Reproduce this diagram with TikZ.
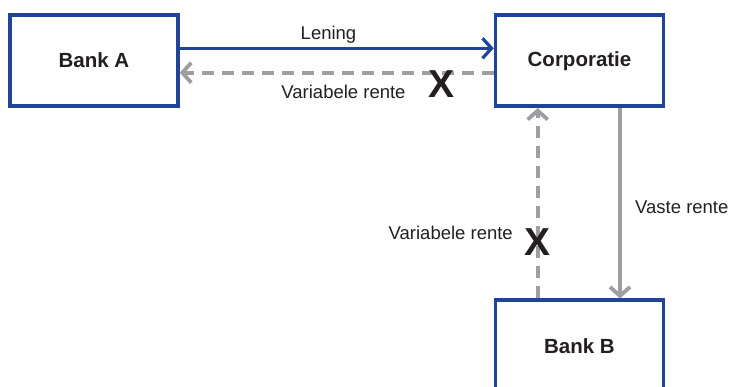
\documentclass[tikz,border=0pt]{standalone}
\usepackage{fontspec}
\setmainfont{Liberation Sans}
\usetikzlibrary{arrows.meta}
\definecolor{boxblue}{RGB}{31,68,154}
\definecolor{arrgray}{RGB}{158,158,162}
\definecolor{txt}{RGB}{35,31,32}
\begin{document}
\begin{tikzpicture}[x=1pt,y=-1pt,
  bank/.style={draw=boxblue, line width=3.5pt, minimum width=168pt, minimum height=91pt, inner sep=0pt,
    font=\fontsize{20.5}{24}\selectfont\bfseries, text=txt},
  lbl/.style={font=\fontsize{18.5}{22}\selectfont, text=txt, inner sep=0pt},
  cross/.style={font=\fontsize{39}{44}\selectfont\bfseries, text=txt, inner sep=0pt},
  bluearr/.style={draw=boxblue, line width=3.3pt, -{Straight Barb[length=9pt,width=20pt,line width=3.3pt]}},
  grayarr/.style={draw=arrgray, line width=4pt, -{Straight Barb[length=9pt,width=20pt,line width=3.8pt]}},
  grdashed/.style={dash pattern=on 12pt off 8pt}
]
\clip (0,0) rectangle (734,387);
\node[bank] (A) at (94,60.5) {Bank A};
\node[bank] (C) at (579.5,60.75) {Corporatie};
\node[bank] (B) at (579.5,345.75) {Bank B};

\draw[bluearr] ([yshift=12.2pt]A.east) -- ([yshift=12.2pt]A.east -| C.west);
\draw[grayarr,grdashed] ([yshift=-12.2pt]A.east -| C.west) -- ([yshift=-12.2pt]A.east);
\draw[grayarr,grdashed] ([xshift=-41.8pt]B.north) -- ([xshift=-41.8pt]B.north |- C.south);
\draw[grayarr] ([xshift=40.5pt]C.south) -- ([xshift=40.5pt]C.south |- B.north);

\node[lbl, anchor=base] (len) at (328.5,39.3) {Lening};
\node[lbl, anchor=base] (v1) at (343.5,98.3) {Variabele rente};
\node[cross, anchor=base] (x1) at (442,97.5) {X};
\node[lbl, anchor=base east] (v2) at (513,240) {Variabele rente};
\node[cross, anchor=base] (x2) at (538,256) {X};
\node[lbl, anchor=base west] (vr) at (635,213.3) {Vaste rente};
\end{tikzpicture}
\end{document}
